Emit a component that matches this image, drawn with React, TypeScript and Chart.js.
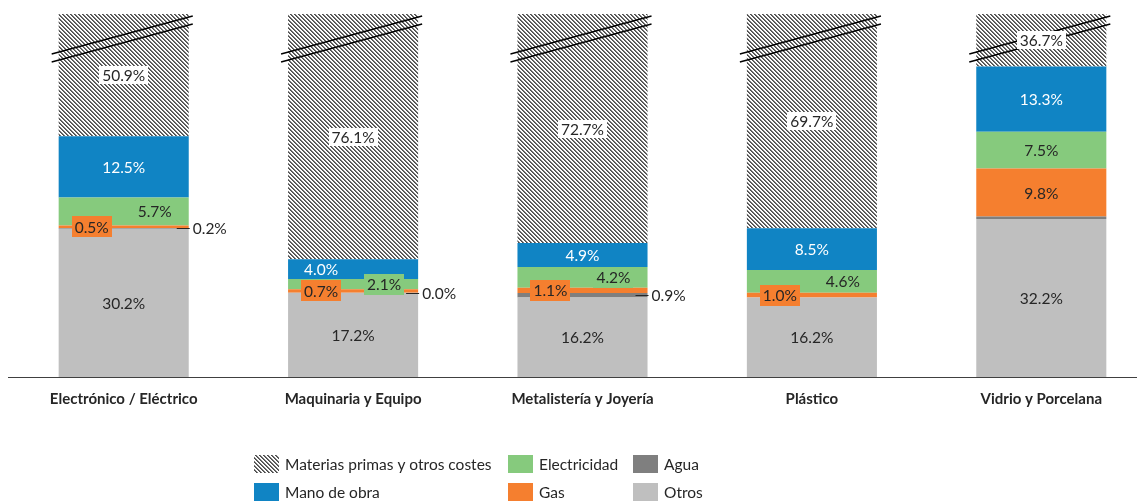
import React, { useEffect, useRef } from "react";
import { Chart, registerables } from "chart.js";

Chart.register(...registerables);

// ---- data ----
const categories = [
  "Electrónico / Eléctrico",
  "Maquinaria y Equipo",
  "Metalistería y Joyería",
  "Plástico",
  "Vidrio y Porcelana",
];
const otros = [30.2, 17.2, 16.2, 16.2, 32.2];
const agua = [0.2, 0.0, 0.9, 0.0, 0.5];
const gas = [0.5, 0.7, 1.1, 1.0, 9.8];
const electricidad = [5.7, 2.1, 4.2, 4.6, 7.5];
const manoDeObra = [12.5, 4.0, 4.9, 8.5, 13.3];
const materiasPrimas = [50.9, 76.1, 72.7, 69.7, 36.7];
// "Agua" is labelled only where it is listed
const aguaLabelShown = [true, true, true, false, false];

// the value axis is cut here; taller stacks are broken off at the top
const axisCut = 74;

// ---- style ----
const FONT = "Lato, 'Open Sans', sans-serif";
const LABEL_SIZE = 15.5;
const TEXT = "#262626";
const COLORS = {
  otros: "#BFBFBF",
  agua: "#7F7F7F",
  gas: "#F57F2F",
  electricidad: "#86CA7D",
  mano: "#1084C4",
};
const CANVAS_W = 1148;
const CANVAS_H = 494;

function makeHatch(): CanvasPattern | string {
  const c = document.createElement("canvas");
  c.width = 4;
  c.height = 4;
  const g = c.getContext("2d");
  if (!g) return "#999";
  const img = g.createImageData(4, 4);
  const shade = [75, 115, 250, 255];
  for (let y = 0; y < 4; y++) {
    for (let x = 0; x < 4; x++) {
      const d = (((x - y) % 4) + 4) % 4;
      const i = (y * 4 + x) * 4;
      img.data[i] = shade[d];
      img.data[i + 1] = shade[d];
      img.data[i + 2] = shade[d];
      img.data[i + 3] = 255;
    }
  }
  g.putImageData(img, 0, 0);
  const p = g.createPattern(c, "repeat");
  return p || "#999";
}

const pct = (v: number) => v.toFixed(1) + "%";

function drawLabel(
  ctx: CanvasRenderingContext2D,
  text: string,
  cx: number,
  cy: number,
  fg: string,
  bg?: string | CanvasPattern,
  boxH = 20
) {
  ctx.font = `${LABEL_SIZE}px ${FONT}`;
  const w = ctx.measureText(text).width;
  if (bg) {
    ctx.fillStyle = bg;
    ctx.fillRect(Math.round(cx - w / 2 - 3), Math.round(cy - boxH / 2), Math.round(w + 6), boxH);
  }
  ctx.fillStyle = fg;
  ctx.textAlign = "center";
  ctx.textBaseline = "middle";
  ctx.fillText(text, cx, cy + 1);
}

function makeOverlay(hatch: CanvasPattern | string) {
  return {
    id: "overlay",
    afterDatasetsDraw(chart: any) {
      const { ctx, chartArea } = chart;
      ctx.save();

      // category axis line, across the full width
      const axisY = Math.round(chartArea.bottom) + 0.5;
      ctx.strokeStyle = "#404040";
      ctx.lineWidth = 1;
      ctx.beginPath();
      ctx.moveTo(0, axisY);
      ctx.lineTo(chart.width, axisY);
      ctx.stroke();

      const bars = (ds: number) => chart.getDatasetMeta(ds).data as any[];

      // break marks over the cut stacks
      ctx.strokeStyle = "#000";
      ctx.lineWidth = 1.4;
      bars(5).forEach((bar) => {
        const { x, width } = bar.getProps(["x", "width"], true);
        const l = x - width / 2 - 7;
        const r = x + width / 2 + 4;
        for (const off of [0, 8]) {
          ctx.beginPath();
          ctx.moveTo(l, chartArea.top + 40 + off);
          ctx.lineTo(r, chartArea.top + 2 + off);
          ctx.stroke();
        }
      });

      const seg = (ds: number, i: number) => {
        const { x, y, base, width } = bars(ds)[i].getProps(["x", "y", "base", "width"], true);
        const top = Math.max(y, chartArea.top);
        return { x, cy: (top + base) / 2, right: x + width / 2 };
      };

      categories.forEach((_, i) => {
        const smallGas = gas[i] < 3;

        // Otros
        let s = seg(0, i);
        drawLabel(ctx, pct(otros[i]), s.x, s.cy, TEXT);

        // Agua, with a leader to the right of the bar
        if (aguaLabelShown[i]) {
          s = seg(1, i);
          const ly = Math.round(s.cy) + 0.5;
          ctx.strokeStyle = "#262626";
          ctx.lineWidth = 1;
          ctx.beginPath();
          ctx.moveTo(s.right - 12, ly);
          ctx.lineTo(s.right + 1, ly);
          ctx.stroke();
          ctx.font = `${LABEL_SIZE}px ${FONT}`;
          ctx.fillStyle = TEXT;
          ctx.textAlign = "left";
          ctx.textBaseline = "middle";
          ctx.fillText(pct(agua[i]), s.right + 4, s.cy + 1);
        }

        // Gas
        s = seg(2, i);
        drawLabel(ctx, pct(gas[i]), s.x + (smallGas ? -32 : 0), s.cy, TEXT, smallGas ? COLORS.gas : undefined, 21);

        // Electricidad
        s = seg(3, i);
        drawLabel(ctx, pct(electricidad[i]), s.x + (smallGas ? 31 : 0), s.cy, TEXT, COLORS.electricidad, 21);

        // Mano de obra
        s = seg(4, i);
        drawLabel(ctx, pct(manoDeObra[i]), s.x + (manoDeObra[i] < 4.5 ? -32 : 0), s.cy, "#FFFFFF");

        // Materias primas
        s = seg(5, i);
        drawLabel(ctx, pct(materiasPrimas[i]), s.x, s.cy, TEXT, "#FFFFFF", 18);
      });

      // legend: three columns, two rows
      const legend: [string, string | CanvasPattern][] = [
        ["Materias primas y otros costes", hatch],
        ["Electricidad", COLORS.electricidad],
        ["Agua", COLORS.agua],
        ["Mano de obra", COLORS.mano],
        ["Gas", COLORS.gas],
        ["Otros", COLORS.otros],
      ];
      const colX = [246, 500, 625];
      const rowY = [447, 475];
      ctx.font = `${LABEL_SIZE}px ${FONT}`;
      ctx.textAlign = "left";
      ctx.textBaseline = "middle";
      legend.forEach(([label, fill], k) => {
        const x = colX[k % 3];
        const y = rowY[Math.floor(k / 3)];
        ctx.fillStyle = fill;
        ctx.fillRect(x, y, 25, 18);
        ctx.fillStyle = TEXT;
        ctx.fillText(label, x + 31, y + 10);
      });

      ctx.restore();
    },
  };
}

export default function App() {
  const ref = useRef<HTMLCanvasElement | null>(null);

  useEffect(() => {
    let chart: Chart | null = null;
    let cancelled = false;

    const build = () => {
      if (cancelled || !ref.current) return;
      const hatch = makeHatch();
      chart = new Chart(ref.current, {
        type: "bar",
        data: {
          labels: categories,
          datasets: [
            { label: "Otros", data: otros, backgroundColor: COLORS.otros },
            { label: "Agua", data: agua, backgroundColor: COLORS.agua },
            { label: "Gas", data: gas, backgroundColor: COLORS.gas },
            { label: "Electricidad", data: electricidad, backgroundColor: COLORS.electricidad },
            { label: "Mano de obra", data: manoDeObra, backgroundColor: COLORS.mano },
            { label: "Materias primas y otros costes", data: materiasPrimas, backgroundColor: hatch as any },
          ],
        },
        options: {
          responsive: false,
          animation: false,
          devicePixelRatio: 1,
          layout: { padding: { top: 6, left: 1, right: 0, bottom: 85 } },
          datasets: {
            bar: { categoryPercentage: 1, barPercentage: 0.567, borderWidth: 0 },
          },
          scales: {
            x: {
              stacked: true,
              grid: { display: false, drawTicks: false },
              border: { display: false },
              ticks: {
                color: TEXT,
                padding: 13,
                font: { family: FONT, size: 15, weight: "bold" },
                maxRotation: 0,
                autoSkip: false,
              },
              afterFit: (scale: any) => {
                scale.height = 40;
              },
            },
            y: { stacked: true, display: false, min: 0, max: axisCut },
          },
          plugins: {
            legend: { display: false },
            tooltip: { enabled: false },
          },
        },
        plugins: [makeOverlay(hatch)],
      } as any);
    };

    if (document.fonts && document.fonts.load) {
      Promise.all([
        document.fonts.load(`${LABEL_SIZE}px Lato`),
        document.fonts.load(`bold 15px Lato`),
      ]).then(build, build);
    } else {
      build();
    }

    return () => {
      cancelled = true;
      if (chart) chart.destroy();
    };
  }, []);

  return (
    <div style={{ width: 1137, height: CANVAS_H, overflow: "hidden" }}>
      <canvas ref={ref} width={CANVAS_W} height={CANVAS_H} style={{ display: "block" }} />
    </div>
  );
}
